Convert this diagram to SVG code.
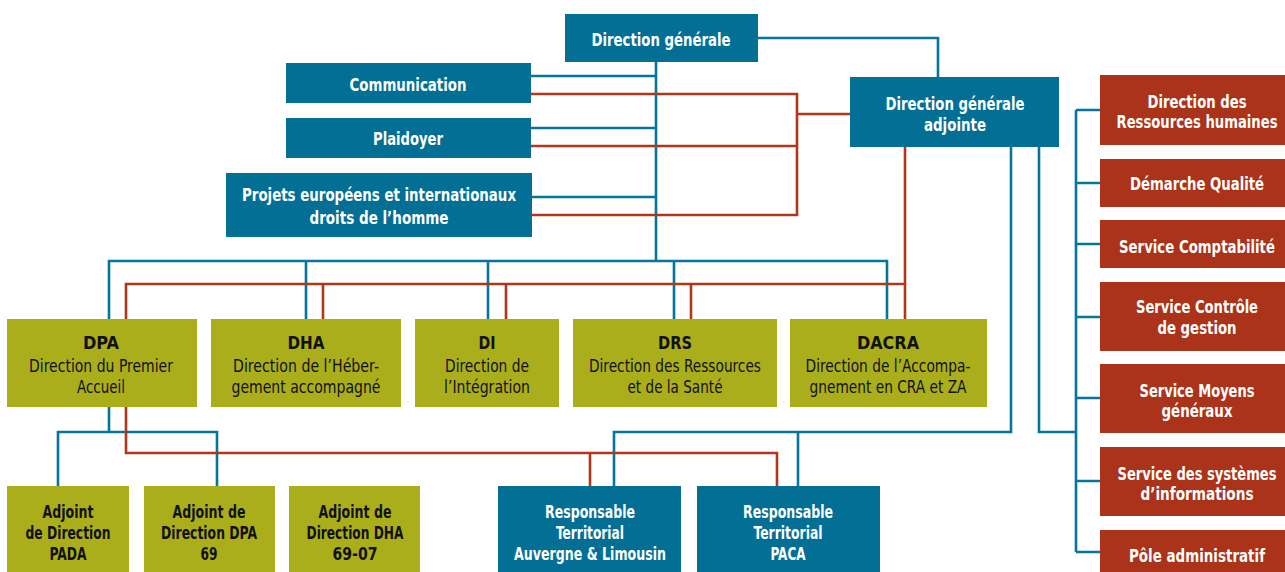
<svg xmlns="http://www.w3.org/2000/svg" width="1285" height="572" viewBox="0 0 1285 572">
<style>
.b{fill:#036f94}
.r{fill:#aa3319}
.o{fill:#abae1b}
.lb{stroke:#05759b;stroke-width:2.6;fill:none}
.lr{stroke:#b0361c;stroke-width:2.6;fill:none}
text{font-family:"DejaVu Sans Condensed","DejaVu Sans","Liberation Sans",sans-serif;font-size:18px;text-anchor:middle}
.w{fill:#ffffff;font-weight:bold}
.k{fill:#111111;font-weight:bold}
.n{fill:#111111;font-weight:normal}
</style>
<g id="connectors">
<path class="lb" d="M758 38H938V77"/>
<path class="lb" d="M656 62V261"/>
<path class="lb" d="M531 76H656M531 128H656M532 197H656"/>
<path class="lb" d="M109 319V261H887V319M306 261V319M488 261V319M674 261V319"/>
<path class="lb" d="M109 407V432M58 486V432H217V486"/>
<path class="lb" d="M1011 147V432H614V486M798 432V486"/>
<path class="lb" d="M1039 147V432H1076M1076 110V552M1076 110H1100M1076 183H1100M1076 244H1100M1076 317H1100M1076 398H1100M1076 481H1100M1076 552H1100"/>
<path class="lr" d="M531 94H797V215H532M531 146H797M797 114H850"/>
<path class="lr" d="M905 147V319M905 284H126V319M323 284V319M506 284V319M691 284V319"/>
<path class="lr" d="M126 407V453H777V486M590 453V486"/>
</g>
<g id="dg"><rect class="b" x="565" y="14" width="193" height="48"/><text class="w" x="661" y="46" textLength="139" lengthAdjust="spacingAndGlyphs">Direction générale</text></g>
<g id="communication"><rect class="b" x="286" y="63" width="245" height="40"/><text class="w" x="408" y="91" textLength="117" lengthAdjust="spacingAndGlyphs">Communication</text></g>
<g id="plaidoyer"><rect class="b" x="286" y="118" width="245" height="40"/><text class="w" x="408" y="145" textLength="70" lengthAdjust="spacingAndGlyphs">Plaidoyer</text></g>
<g id="projets"><rect class="b" x="226" y="173" width="306" height="64"/><text class="w" x="379" y="201" textLength="274" lengthAdjust="spacingAndGlyphs">Projets européens et internationaux</text><text class="w" x="379" y="224" textLength="139" lengthAdjust="spacingAndGlyphs">droits de l’homme</text></g>
<g id="dga"><rect class="b" x="850" y="77" width="209" height="70"/><text class="w" x="955" y="110" textLength="139" lengthAdjust="spacingAndGlyphs">Direction générale</text><text class="w" x="955" y="131" textLength="62" lengthAdjust="spacingAndGlyphs">adjointe</text></g>
<g id="drh"><rect class="r" x="1100" y="75" width="185" height="70"/><text class="w" x="1197" y="108" textLength="99" lengthAdjust="spacingAndGlyphs">Direction des</text><text class="w" x="1197" y="128" textLength="161" lengthAdjust="spacingAndGlyphs">Ressources humaines</text></g>
<g id="qualite"><rect class="r" x="1100" y="159" width="185" height="48"/><text class="w" x="1197" y="190" textLength="134" lengthAdjust="spacingAndGlyphs">Démarche Qualité</text></g>
<g id="compta"><rect class="r" x="1100" y="220" width="185" height="48"/><text class="w" x="1197" y="253" textLength="156" lengthAdjust="spacingAndGlyphs">Service Comptabilité</text></g>
<g id="controle"><rect class="r" x="1100" y="282" width="185" height="69"/><text class="w" x="1197" y="313" textLength="122" lengthAdjust="spacingAndGlyphs">Service Contrôle</text><text class="w" x="1197" y="334" textLength="79" lengthAdjust="spacingAndGlyphs">de gestion</text></g>
<g id="moyens"><rect class="r" x="1100" y="364" width="185" height="69"/><text class="w" x="1197" y="397" textLength="115" lengthAdjust="spacingAndGlyphs">Service Moyens</text><text class="w" x="1197" y="417" textLength="71" lengthAdjust="spacingAndGlyphs">généraux</text></g>
<g id="si"><rect class="r" x="1100" y="447" width="185" height="69"/><text class="w" x="1197" y="480" textLength="159" lengthAdjust="spacingAndGlyphs">Service des systèmes</text><text class="w" x="1197" y="500" textLength="113" lengthAdjust="spacingAndGlyphs">d’informations</text></g>
<g id="pole"><rect class="r" x="1100" y="530" width="185" height="42"/><text class="w" x="1197" y="562" textLength="136" lengthAdjust="spacingAndGlyphs">Pôle administratif</text></g>
<g id="dpa"><rect class="o" x="7" y="319" width="190" height="88"/><text class="k" x="101" y="349" textLength="36" lengthAdjust="spacingAndGlyphs">DPA</text><text class="n" x="101" y="372" textLength="144" lengthAdjust="spacingAndGlyphs">Direction du Premier</text><text class="n" x="101" y="393" textLength="48" lengthAdjust="spacingAndGlyphs">Accueil</text></g>
<g id="dha"><rect class="o" x="211" y="319" width="190" height="88"/><text class="k" x="306" y="349" textLength="37" lengthAdjust="spacingAndGlyphs">DHA</text><text class="n" x="306" y="372" textLength="146" lengthAdjust="spacingAndGlyphs">Direction de l’Héber-</text><text class="n" x="306" y="393" textLength="149" lengthAdjust="spacingAndGlyphs">gement accompagné</text></g>
<g id="di"><rect class="o" x="415" y="319" width="144" height="88"/><text class="k" x="487" y="349" textLength="17" lengthAdjust="spacingAndGlyphs">DI</text><text class="n" x="487" y="372" textLength="84" lengthAdjust="spacingAndGlyphs">Direction de</text><text class="n" x="487" y="393" textLength="86" lengthAdjust="spacingAndGlyphs">l’Intégration</text></g>
<g id="drs"><rect class="o" x="573" y="319" width="204" height="88"/><text class="k" x="675" y="349" textLength="34" lengthAdjust="spacingAndGlyphs">DRS</text><text class="n" x="675" y="372" textLength="172" lengthAdjust="spacingAndGlyphs">Direction des Ressources</text><text class="n" x="675" y="393" textLength="95" lengthAdjust="spacingAndGlyphs">et de la Santé</text></g>
<g id="dacra"><rect class="o" x="790" y="319" width="197" height="88"/><text class="k" x="888" y="349" textLength="62" lengthAdjust="spacingAndGlyphs">DACRA</text><text class="n" x="888" y="372" textLength="165" lengthAdjust="spacingAndGlyphs">Direction de l’Accompa-</text><text class="n" x="888" y="393" textLength="157" lengthAdjust="spacingAndGlyphs">gnement en CRA et ZA</text></g>
<g id="adj-pada"><rect class="o" x="7" y="486" width="122" height="86"/><text class="k" x="68" y="518" textLength="51" lengthAdjust="spacingAndGlyphs">Adjoint</text><text class="k" x="68" y="539" textLength="85" lengthAdjust="spacingAndGlyphs">de Direction</text><text class="k" x="68" y="560" textLength="37" lengthAdjust="spacingAndGlyphs">PADA</text></g>
<g id="adj-dpa69"><rect class="o" x="144" y="486" width="131" height="86"/><text class="k" x="209" y="518" textLength="73" lengthAdjust="spacingAndGlyphs">Adjoint de</text><text class="k" x="209" y="539" textLength="96" lengthAdjust="spacingAndGlyphs">Direction DPA</text><text class="k" x="209" y="560" textLength="17" lengthAdjust="spacingAndGlyphs">69</text></g>
<g id="adj-dha"><rect class="o" x="289" y="486" width="131" height="86"/><text class="k" x="355" y="518" textLength="73" lengthAdjust="spacingAndGlyphs">Adjoint de</text><text class="k" x="355" y="539" textLength="97" lengthAdjust="spacingAndGlyphs">Direction DHA</text><text class="k" x="355" y="560" textLength="45" lengthAdjust="spacingAndGlyphs">69-07</text></g>
<g id="rt-auvergne"><rect class="b" x="498" y="486" width="183" height="86"/><text class="w" x="590" y="518" textLength="90" lengthAdjust="spacingAndGlyphs">Responsable</text><text class="w" x="590" y="539" textLength="68" lengthAdjust="spacingAndGlyphs">Territorial</text><text class="w" x="590" y="560" textLength="152" lengthAdjust="spacingAndGlyphs">Auvergne &amp; Limousin</text></g>
<g id="rt-paca"><rect class="b" x="697" y="486" width="183" height="86"/><text class="w" x="788" y="518" textLength="90" lengthAdjust="spacingAndGlyphs">Responsable</text><text class="w" x="788" y="539" textLength="69" lengthAdjust="spacingAndGlyphs">Territorial</text><text class="w" x="788" y="560" textLength="35" lengthAdjust="spacingAndGlyphs">PACA</text></g>
</svg>
